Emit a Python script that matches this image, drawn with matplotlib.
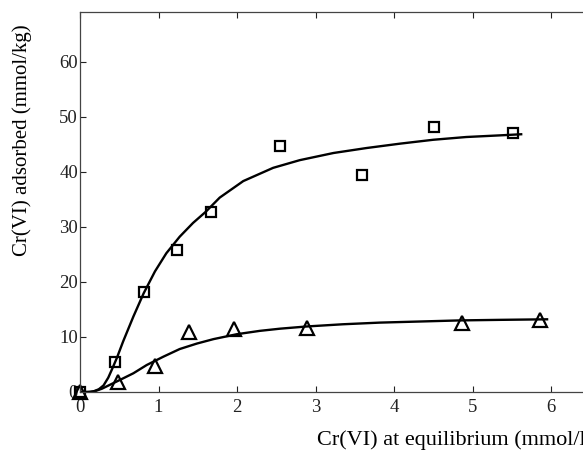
import matplotlib.pyplot as plt

plt.rcParams['font.family'] = ['Liberation Serif', 'DejaVu Serif']

# measured points
sq_x = [0.0, 0.44, 0.81, 1.24, 1.67, 2.55, 3.59, 4.51, 5.52]
sq_y = [0.0, 5.5, 18.1, 25.7, 32.6, 44.7, 39.4, 48.1, 47.0]
tri_x = [0.0, 0.49, 0.95, 1.39, 1.96, 2.89, 4.87, 5.86]
tri_y = [0.0, 1.9, 4.8, 10.9, 11.5, 11.6, 12.6, 13.0]

# fitted curves
fit_sq_x = [0.0, 0.10, 0.17, 0.24, 0.30, 0.36, 0.41, 0.47, 0.55, 0.68, 0.81,
            0.955, 1.10, 1.27, 1.44, 1.60, 1.78, 2.08, 2.46, 2.80, 3.23, 3.65,
            4.08, 4.50, 4.92, 5.35, 5.62]
fit_sq_y = [0.0, 0.0, 0.1, 0.5, 1.2, 2.6, 4.2, 6.2, 9.2, 13.7, 17.9,
            21.9, 25.2, 28.2, 30.7, 32.7, 35.3, 38.3, 40.7, 42.1, 43.4, 44.3,
            45.1, 45.8, 46.3, 46.6, 46.8]
fit_tri_x = [0.0, 0.13, 0.20, 0.28, 0.38, 0.51, 0.68, 0.85, 1.06, 1.27, 1.49,
             1.70, 2.00, 2.29, 2.55, 2.89, 3.35, 3.82, 4.33, 4.84, 5.35, 5.95]
fit_tri_y = [0.0, 0.0, 0.2, 0.6, 1.3, 2.2, 3.4, 4.9, 6.4, 7.8, 8.8,
             9.6, 10.5, 11.1, 11.5, 11.9, 12.3, 12.6, 12.8, 13.0, 13.1, 13.2]

fig = plt.figure(figsize=(5.83, 4.51), dpi=100)
ax = fig.add_axes([80 / 583, 59 / 451, 7 * 78.5 / 583, 380 / 451])

ax.plot(fit_sq_x, fit_sq_y, color='black', lw=1.7, solid_joinstyle='round')
ax.plot(fit_tri_x, fit_tri_y, color='black', lw=1.7, solid_joinstyle='round')
ax.plot(sq_x, sq_y, 's', ms=7.5, mfc='none', mec='black', mew=1.6,
        clip_on=False)
ax.plot(tri_x, tri_y, '^', ms=9.5, mfc='none', mec='black', mew=1.6,
        clip_on=False)

ax.set_xlim(0, 7)
ax.set_ylim(0, 69)
ax.set_xticks(range(0, 7))
ax.set_yticks(range(0, 61, 10))
ax.tick_params(direction='in', top=True, right=True, length=4, width=0.8,
               labelsize=13.5, colors='#222222')
ax.tick_params(axis='x', pad=5)
ax.tick_params(axis='y', pad=1.5)
for s in ax.spines.values():
    s.set_color('#444444')
    s.set_linewidth(0.9)

fig.text(317 / 583, 11 / 451, 'Cr(VI) at equilibrium (mmol/l)',
         fontsize=16, ha='left', va='center')
fig.text(22 / 583, 1 - 140 / 451, 'Cr(VI) adsorbed (mmol/kg)',
         fontsize=15, rotation=90, ha='center', va='center')

fig.savefig('out.png', dpi=100)
